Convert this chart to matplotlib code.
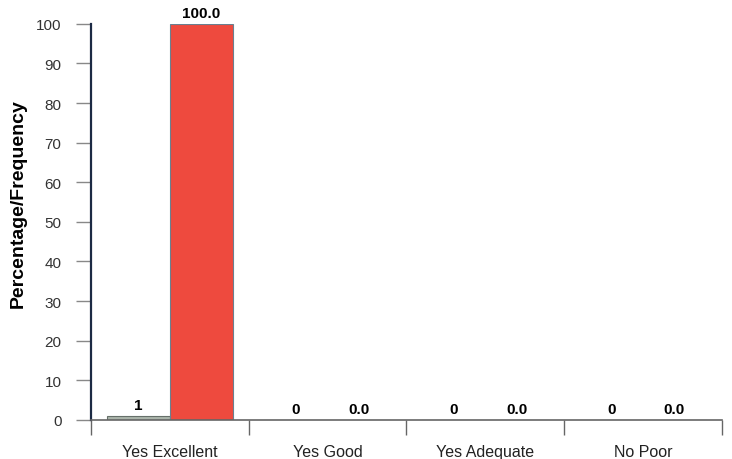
import numpy as np
import matplotlib.pyplot as plt

categories = ['Yes Excellent', 'Yes Good', 'Yes Adequate', 'No Poor']
frequency  = [1, 0, 0, 0]
percentage = [100.0, 0.0, 0.0, 0.0]

plt.rcParams['font.family'] = ['Liberation Sans', 'DejaVu Sans']

fig = plt.figure(figsize=(7.32, 4.6), dpi=100)
ax  = fig.add_axes([0.124, 0.085, 0.862, 0.861])

x = np.arange(len(categories))
w = 0.4
b1 = ax.bar(x - 0.2, frequency, w, color='#aab4aa', edgecolor='#66706a', linewidth=0.8)
b2 = ax.bar(x + 0.2, percentage, w, color='#ee4a3e', edgecolor='#6a8090', linewidth=0.8)

for r, v in zip(b1, frequency):
    ax.text(r.get_x() + r.get_width()/2, r.get_height() + 1.0, '%d' % v,
            ha='center', va='bottom', fontsize=11, fontweight='bold')
for r, v in zip(b2, percentage):
    ax.text(r.get_x() + r.get_width()/2, r.get_height() + 1.0, '%.1f' % v,
            ha='center', va='bottom', fontsize=11, fontweight='bold')

ax.set_xlim(-0.5, len(categories) - 0.5)
ax.set_ylim(0, 100)
ax.set_yticks(np.arange(0, 101, 10))
ax.set_xticks(np.arange(len(categories) + 1) - 0.5)
ax.set_xticklabels([])
ax.set_xticks(x, minor=True)
ax.set_xticklabels(categories, minor=True)
ax.tick_params(axis='x', which='major', length=11, color='#666666', width=1)
ax.tick_params(axis='x', which='minor', length=0, pad=17, labelsize=11.5, labelcolor='#222222')
ax.tick_params(axis='y', length=11, color='#888888', width=1, labelsize=11,
               labelcolor='#333333', pad=10)

ax.spines['top'].set_visible(False)
ax.spines['right'].set_visible(False)
ax.spines['left'].set_color('#1c2a44')
ax.spines['left'].set_linewidth(1.6)
ax.spines['bottom'].set_color('#666666')
ax.spines['bottom'].set_linewidth(1.2)
ax.spines['bottom'].set_zorder(3)

ax.set_ylabel('Percentage/Frequency', fontsize=14, fontweight='bold')
ax.yaxis.set_label_coords(-0.102, 0.55)

plt.savefig('out.png', dpi=100)
